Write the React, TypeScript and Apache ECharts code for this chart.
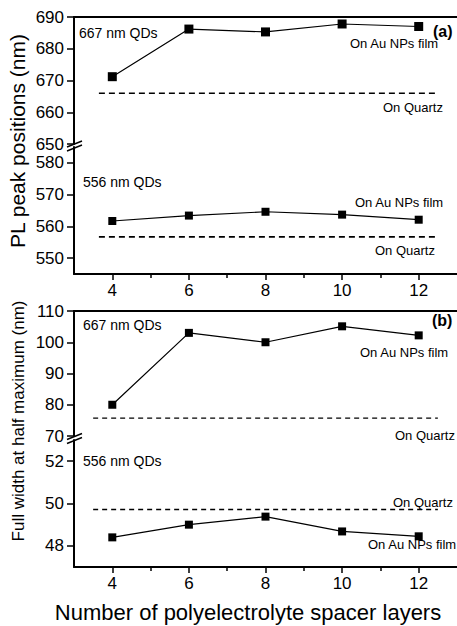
import React, { useEffect, useRef } from "react";
import * as echarts from "echarts";

// ---- data ----
const layers = [4, 6, 8, 10, 12];
// (a) PL peak positions (nm)
const peak667Au = [671.2, 686.2, 685.3, 687.8, 687.0];
const peak667Quartz = 666.0;
const peak556Au = [561.7, 563.4, 564.6, 563.7, 562.1];
const peak556Quartz = 556.7;
// (b) FWHM (nm)
const fwhm667Au = [80.0, 103.0, 100.0, 105.1, 102.2];
const fwhm667Quartz = 75.7;
const fwhm556Au = [48.4, 49.0, 49.38, 48.68, 48.45];
const fwhm556Quartz = 49.72;

const xTicks = [4, 6, 8, 10, 12];
const xMinor = [5, 7, 9, 11];
const aTopTicks = [650, 660, 670, 680, 690];
const aTopMinor = [655, 665, 675, 685];
const aBotTicks = [550, 560, 570, 580];
const aBotMinor = [555, 565, 575];
const bTopTicks = [70, 80, 90, 100, 110];
const bTopMinor = [75, 85, 95, 105];
const bBotTicks = [48, 50, 52];
const bBotMinor = [49, 51];

const dashStartA = 3.65;
const dashEndA = 12.5;
const dashStartB = 3.5;
const dashEndB = 12.5;

const FONT = "'Liberation Sans', Arial, Helvetica, sans-serif";

const zip = (xs: number[], ys: number[]) => xs.map((x, i) => [x, ys[i]]);

export default function App() {
  const ref = useRef<HTMLDivElement>(null);
  useEffect(() => {
    if (!ref.current) return;
    const chart = echarts.init(ref.current, undefined, { renderer: "svg" });

    const L = 74;
    const W = 383;
    const grids = [
      { left: L, width: W, top: 17, height: 127 },
      { left: L, width: W, top: 147, height: 127 },
      { left: L, width: W, top: 311, height: 125 },
      { left: L, width: W, top: 440, height: 127 },
    ];

    const lineAx = { show: true, lineStyle: { color: "#000", width: 2 } };

    const xTop = (gi: number) => ({
      type: "value",
      gridIndex: gi,
      position: "top",
      min: 3,
      max: 13,
      axisLine: lineAx,
      axisTick: { show: false },
      axisLabel: { show: false },
      splitLine: { show: false },
    });
    const xBottom = (gi: number) => ({
      type: "value",
      gridIndex: gi,
      position: "bottom",
      min: 3,
      max: 13,
      axisLine: { ...lineAx, onZero: false },
      axisTick: {
        show: true,
        inside: false,
        length: 6,
        customValues: xTicks,
        lineStyle: { color: "#000", width: 1.5 },
      },
      axisLabel: {
        show: true,
        customValues: xTicks,
        fontSize: 17,
        fontFamily: FONT,
        color: "#000",
        margin: 8,
      },
      splitLine: { show: false },
    });
    const xMinorAx = (gi: number) => ({
      type: "value",
      gridIndex: gi,
      position: "bottom",
      min: 3,
      max: 13,
      axisLine: { show: false, onZero: false },
      axisTick: {
        show: true,
        length: 4,
        customValues: xMinor,
        lineStyle: { color: "#000", width: 1.5 },
      },
      axisLabel: { show: false },
      splitLine: { show: false },
    });

    const yMain = (gi: number, min: number, max: number, ticks: number[]) => ({
      type: "value",
      gridIndex: gi,
      min,
      max,
      axisLine: { ...lineAx, onZero: false },
      axisTick: {
        show: true,
        length: 7,
        customValues: ticks,
        lineStyle: { color: "#000", width: 1.5 },
      },
      axisLabel: {
        show: true,
        customValues: ticks,
        fontSize: 17,
        fontFamily: FONT,
        color: "#000",
        margin: 10,
      },
      splitLine: { show: false },
    });
    const yMinor = (gi: number, min: number, max: number, ticks: number[]) => ({
      type: "value",
      gridIndex: gi,
      min,
      max,
      axisLine: { show: false, onZero: false },
      axisTick: {
        show: true,
        length: 4,
        customValues: ticks,
        lineStyle: { color: "#000", width: 1.5 },
      },
      axisLabel: { show: false },
      splitLine: { show: false },
    });

    const dataSeries = (xi: number, yi: number, data: number[][], size: number) => ({
      type: "line",
      xAxisIndex: xi,
      yAxisIndex: yi,
      data,
      symbol: "rect",
      symbolSize: size,
      itemStyle: { color: "#000" },
      lineStyle: { color: "#000", width: 1.2 },
      z: 5,
    });
    const dashSeries = (xi: number, yi: number, x0: number, x1: number, v: number, w: number, dash: number[]) => ({
      type: "line",
      xAxisIndex: xi,
      yAxisIndex: yi,
      data: [
        [x0, v],
        [x1, v],
      ],
      symbol: "none",
      lineStyle: { color: "#000", width: w, type: dash },
      z: 4,
    });

    const txt = (x: number, y: number, text: string, size: number, extra: any = {}) => ({
      type: "text",
      x,
      y,
      style: {
        text,
        fontSize: size,
        fontFamily: FONT,
        fill: "#000",
        textAlign: "left",
        textVerticalAlign: "middle",
        ...extra,
      },
      z: 10,
    });

    const breakMark = (x: number, y: number) => ({
      type: "group",
      z: 20,
      children: [
        {
          type: "polygon",
          shape: {
            points: [
              [x - 6, y + 1],
              [x + 7, y - 4],
              [x + 7, y + 1],
              [x - 6, y + 6],
            ],
          },
          style: { fill: "#fff" },
        },
        {
          type: "line",
          shape: { x1: x - 7, y1: y + 1.5, x2: x + 8, y2: y - 4.5 },
          style: { stroke: "#000", lineWidth: 1.5 },
        },
        {
          type: "line",
          shape: { x1: x - 7, y1: y + 5.5, x2: x + 8, y2: y - 0.5 },
          style: { stroke: "#000", lineWidth: 1.5 },
        },
      ],
    });

    chart.setOption({
      animation: false,
      backgroundColor: "#fff",
      grid: grids,
      xAxis: [xTop(0), xBottom(1), xMinorAx(1), xTop(2), xBottom(3), xMinorAx(3)],
      yAxis: [
        yMain(0, 650, 690, aTopTicks),
        yMinor(0, 650, 690, aTopMinor),
        yMain(1, 545, 585, aBotTicks),
        yMinor(1, 545, 585, aBotMinor),
        yMain(2, 70, 110, bTopTicks),
        yMinor(2, 70, 110, bTopMinor),
        yMain(3, 47, 53, bBotTicks),
        yMinor(3, 47, 53, bBotMinor),
      ],
      series: [
        dataSeries(0, 0, zip(layers, peak667Au), 9),
        dashSeries(0, 0, dashStartA, dashEndA, peak667Quartz, 1.6, [6, 4]),
        dataSeries(1, 2, zip(layers, peak556Au), 8),
        dashSeries(1, 2, dashStartA, dashEndA, peak556Quartz, 1.6, [6, 4]),
        dataSeries(3, 4, zip(layers, fwhm667Au), 8),
        dashSeries(3, 4, dashStartB, dashEndB, fwhm667Quartz, 1.2, [5, 4]),
        dataSeries(4, 6, zip(layers, fwhm556Au), 8),
        dashSeries(4, 6, dashStartB, dashEndB, fwhm556Quartz, 1.6, [5, 4]),
      ],
      graphic: [
        // y-axis titles
        {
          type: "text",
          x: 17,
          y: 141,
          rotation: Math.PI / 2,
          style: {
            text: "PL peak positions (nm)",
            fontSize: 21,
            fontFamily: FONT,
            fill: "#000",
            textAlign: "center",
            textVerticalAlign: "middle",
          },
        },
        {
          type: "text",
          x: 18,
          y: 421,
          rotation: Math.PI / 2,
          style: {
            text: "Full width at half maximum (nm)",
            fontSize: 17,
            fontFamily: FONT,
            fill: "#000",
            textAlign: "center",
            textVerticalAlign: "middle",
          },
        },
        // x-axis title
        {
          type: "text",
          x: 248,
          y: 612,
          style: {
            text: "Number of polyelectrolyte spacer layers",
            fontSize: 22,
            fontFamily: FONT,
            fill: "#000",
            textAlign: "center",
            textVerticalAlign: "middle",
          },
        },
        // panel (a)
        txt(79, 33, "667 nm QDs", 14),
        txt(433, 31, "(a)", 16, { fontWeight: "bold" }),
        txt(350, 43, "On Au NPs film", 13),
        txt(383, 107, "On Quartz", 13),
        txt(83, 182, "556 nm QDs", 14),
        txt(355, 202, "On Au NPs film", 13),
        txt(375, 250, "On Quartz", 13),
        // panel (b)
        txt(83, 325, "667 nm QDs", 14),
        txt(432, 320, "(b)", 16, { fontWeight: "bold" }),
        txt(360, 352, "On Au NPs film", 13),
        txt(395, 435, "On Quartz", 13),
        txt(83, 461, "556 nm QDs", 14),
        txt(393, 502, "On Quartz", 13),
        txt(368, 544, "On Au NPs film", 13),
        // axis breaks
        breakMark(74, 145.5),
        breakMark(74, 438),
      ],
    });

    return () => chart.dispose();
  }, []);

  return (
    <div
      ref={ref}
      style={{ position: "fixed", left: 0, top: 0, width: 457, height: 626, background: "#fff" }}
    />
  );
}
